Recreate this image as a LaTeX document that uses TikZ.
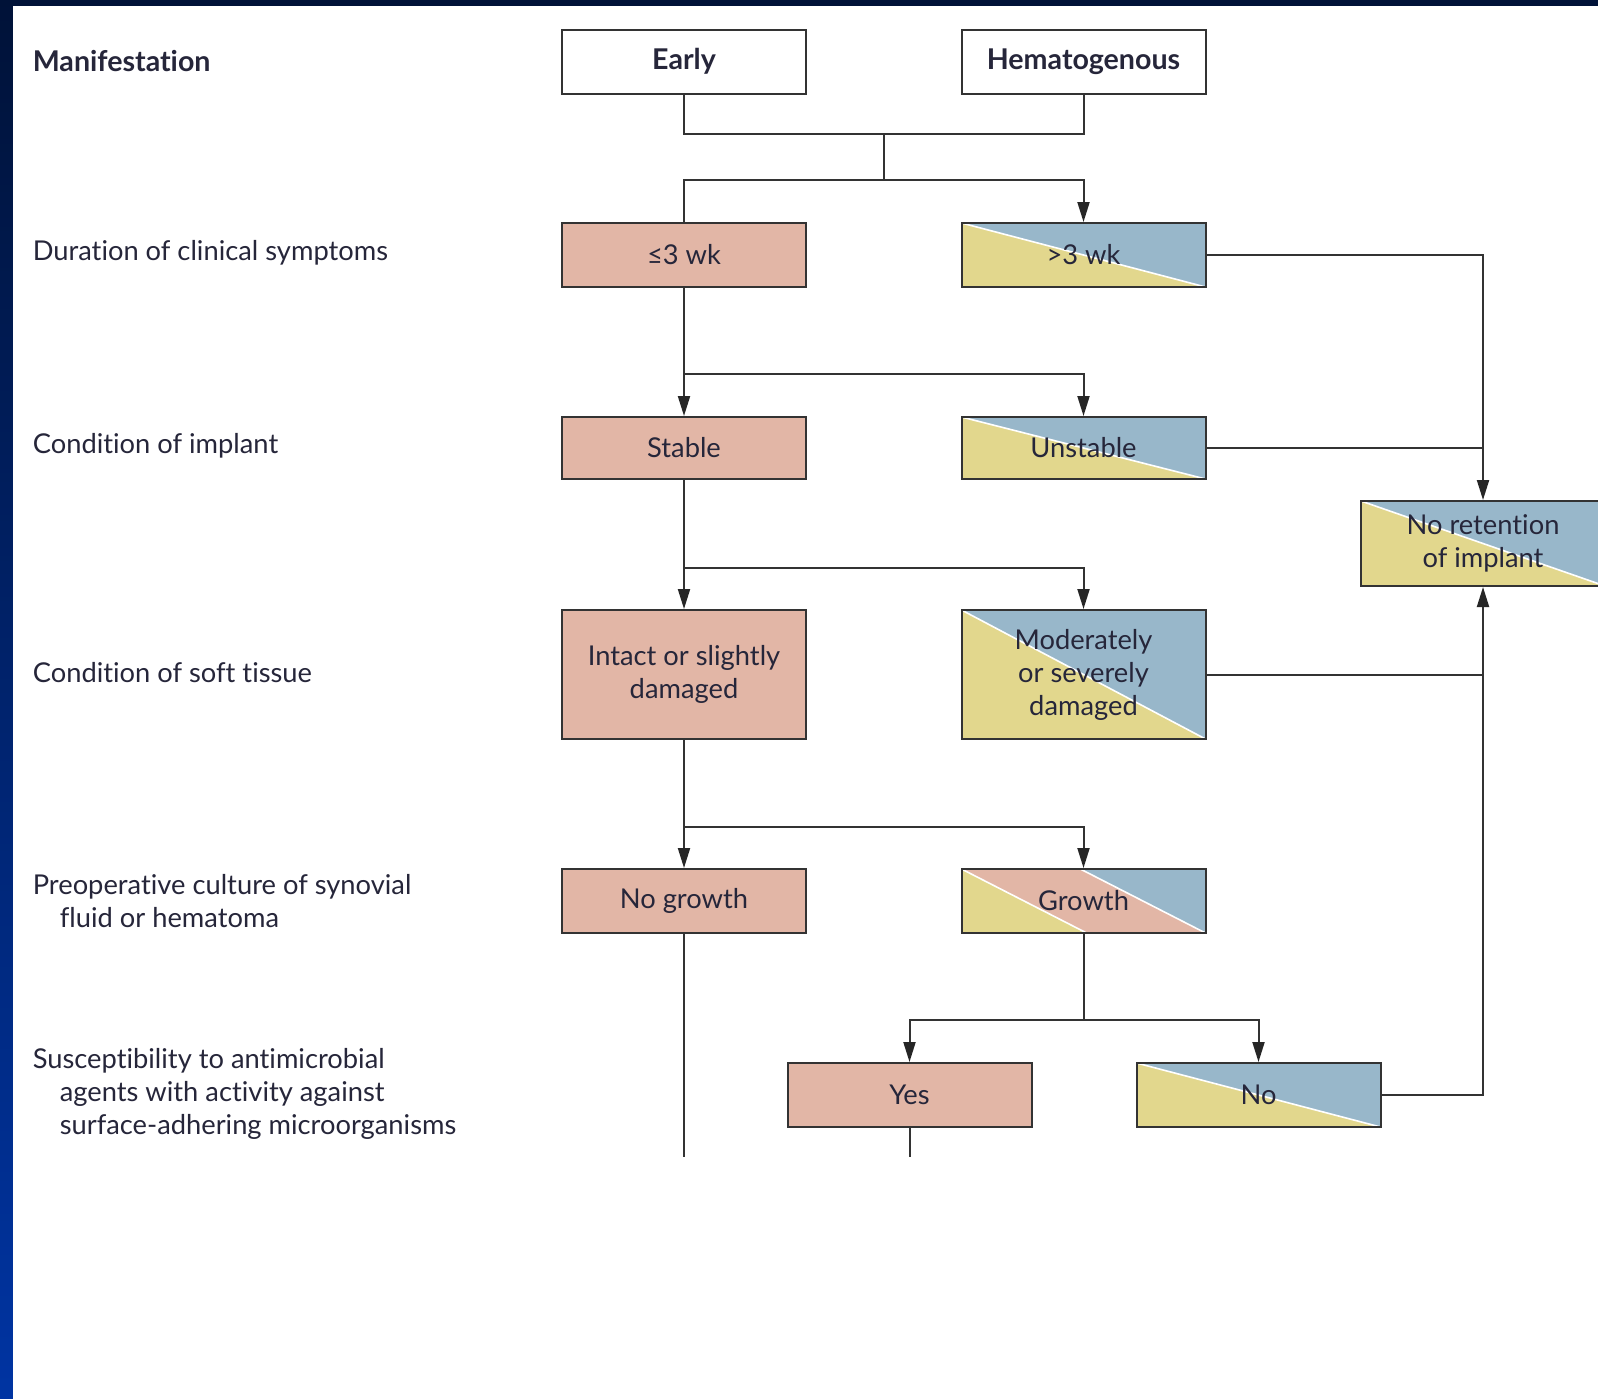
\documentclass[tikz,border=0pt]{standalone}
\usepackage{fontspec}
\setmainfont{Lato}[Ligatures={NoCommon,NoDiscretionary,NoRare}]
\usetikzlibrary{arrows.meta,calc}

\definecolor{navytop}{HTML}{001238}
\definecolor{navybot}{HTML}{0034A2}
\definecolor{pinkfill}{HTML}{E2B6A6}
\definecolor{yelfill}{HTML}{E2D78D}
\definecolor{blufill}{HTML}{98B7CA}
\definecolor{inkline}{HTML}{333333}
\definecolor{inktext}{HTML}{26263A}

\tikzset{
  box/.style={draw=inkline, line width=2pt, minimum width=244pt, minimum height=64pt,
    inner sep=0pt, align=center, text=inktext, font=\fontsize{27.3}{33}\selectfont},
  tall/.style={minimum height=129pt},
  plain/.style={box, fill=white},
  pinkbox/.style={box, fill=pinkfill},
  split/.style={box, path picture={
      \fill[yelfill] (path picture bounding box.north west) -- (path picture bounding box.south east)
        -- (path picture bounding box.south west) -- cycle;
      \fill[blufill] (path picture bounding box.north west) -- (path picture bounding box.north east)
        -- (path picture bounding box.south east) -- cycle;
      \draw[white, line width=1.6pt] (path picture bounding box.north west) -- (path picture bounding box.south east);
    }},
  triple/.style={box, path picture={
      \coordinate (pnw) at (path picture bounding box.north west);
      \coordinate (pne) at (path picture bounding box.north east);
      \coordinate (psw) at (path picture bounding box.south west);
      \coordinate (pse) at (path picture bounding box.south east);
      \coordinate (pn) at ($(pnw)!0.487!(pne)$);
      \coordinate (ps) at ($(psw)!0.513!(pse)$);
      \fill[pinkfill] (pnw) -- (pn) -- (pse) -- (ps) -- cycle;
      \fill[yelfill] (pnw) -- (ps) -- (psw) -- cycle;
      \fill[blufill] (pn) -- (pne) -- (pse) -- cycle;
      \draw[white, line width=1.6pt] (pnw) -- (ps) (pn) -- (pse);
    }},
  rowcap/.style={anchor=west, align=left, inner sep=0pt, text=inktext,
    font=\fontsize{27.3}{33}\selectfont},
  boldcap/.style={font=\fontsize{28.6}{33}\selectfont\bfseries},
  link/.style={draw=inkline, line width=2pt},
  arr/.style={link, -{Triangle[length=20pt,width=12pt,color=black!85]}},
}

\begin{document}
\begin{tikzpicture}[x=1pt, y=-1pt]
  \useasboundingbox (0,0) rectangle (1598,1398);
  \clip (0,0) rectangle (1598,1398);
  % slide frame and white page
  \shade[top color=navytop, bottom color=navybot] (0,0) rectangle (1598,1398);
  \fill[white] (13,6) rectangle (1605,1405);

  % row captions
  \node[rowcap, boldcap] (lab1) at (32.6,61) {Manifestation};
  \node[rowcap] (lab2) at (32.6,253) {Duration of clinical symptoms};
  \node[rowcap] (lab3) at (32.6,446) {Condition of implant};
  \node[rowcap] (lab4) at (32.6,673) {Condition of soft tissue};
  \node[rowcap] (lab5) at (32.6,901) {Preoperative culture of synovial\\\hspace*{27pt}fluid or hematoma};
  \node[rowcap] (lab6) at (32.6,1094) {Susceptibility to antimicrobial\\\hspace*{27pt}agents with activity against\\\hspace*{27pt}surface-adhering microorganisms};

  % decision boxes
  \node[plain, boldcap] (early) at (684,61.5) {Early};
  \node[plain, boldcap] (hem) at (1083.5,61.5) {Hematogenous};
  \node[pinkbox] (le3) at (684,255) {≤3 wk};
  \node[split] (gt3) at (1083.5,255) {>3 wk};
  \node[pinkbox, minimum height=62pt] (stable) at (684,448) {Stable};
  \node[split, minimum height=62pt] (unstable) at (1083.5,448) {Unstable};
  \node[split, minimum height=85pt] (nr) at (1483,543.5) {No retention\\of implant};
  \node[pinkbox, tall] (intact) at (684,674.5) {Intact or slightly\\damaged};
  \node[split, tall] (mod) at (1083.5,674.5) {Moderately\\or severely\\damaged};
  \node[pinkbox] (nogrowth) at (684,901) {No growth};
  \node[triple] (growth) at (1083.5,901) {Growth};
  \node[pinkbox] (yes) at (909.5,1095) {Yes};
  \node[split] (no) at (1258.5,1095) {No};

  % junction points
  \coordinate (j1) at (884,133.5);
  \coordinate (j2) at (884,180);
  \coordinate (b3) at (684,374);
  \coordinate (b4) at (684,567.7);
  \coordinate (b5) at (684,826.5);
  \coordinate (g1) at (1083.5,1020);
  \coordinate (g2) at (909.5,1020);
  \coordinate (u1) at (1483,448);
  \coordinate (m1) at (1483,674.5);
  \coordinate (e1) at (684,1156.7);
  \coordinate (e2) at (909.5,1156.7);

  % connectors
  \draw[link] (early.south) |- (j1) -| (hem.south);
  \draw[link] (j1) -- (j2);
  \draw[link] (j2) -| (le3.north);
  \draw[arr] (j2) -| (gt3.north);

  \draw[arr] (le3.south) -- (stable.north);
  \draw[arr] (b3) -| (unstable.north);
  \draw[arr] (gt3.east) -| (nr.north);
  \draw[link] (unstable.east) -- (u1);

  \draw[arr] (stable.south) -- (intact.north);
  \draw[arr] (b4) -| (mod.north);
  \draw[link] (mod.east) -- (m1);
  \draw[arr] (no.east) -| (nr.south);

  \draw[arr] (intact.south) -- (nogrowth.north);
  \draw[arr] (b5) -| (growth.north);

  \draw[link] (nogrowth.south) -- (e1);
  \draw[link] (growth.south) -- (g1);
  \draw[arr] (g1) -| (no.north);
  \draw[arr] (g1) -- (g2) -- (yes.north);
  \draw[link] (yes.south) -- (e2);
\end{tikzpicture}
\end{document}
